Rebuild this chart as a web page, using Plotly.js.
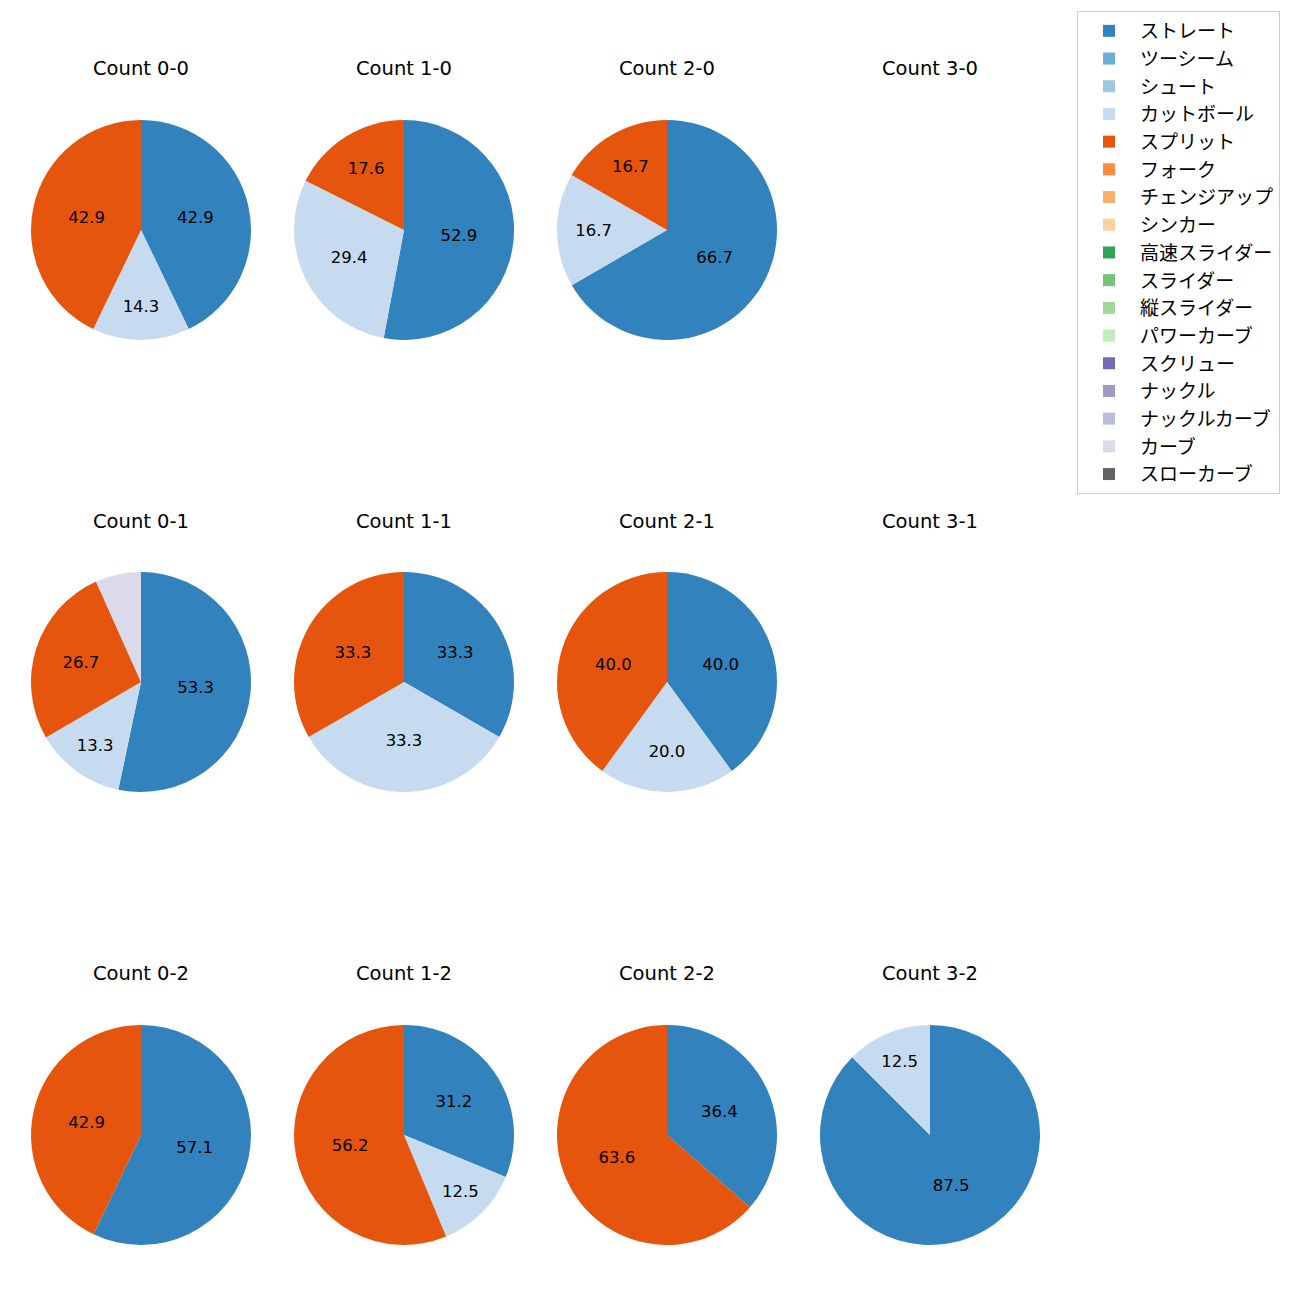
<!DOCTYPE html>
<html><head><meta charset="utf-8">
<script src="https://cdn.plot.ly/plotly-3.0.1.min.js"></script>
<style>body{margin:0;background:#fff}</style>
</head><body>
<div id="chart" style="width:1300px;height:1300px"></div>
<script>
const pitchTypes = ["ストレート","ツーシーム","シュート","カットボール","スプリット","フォーク","チェンジアップ","シンカー","高速スライダー","スライダー","縦スライダー","パワーカーブ","スクリュー","ナックル","ナックルカーブ","カーブ","スローカーブ"];
const pitchColors = ["#3182bd","#6baed6","#9ecae1","#c6dbef","#e6550d","#fd8d3c","#fdae6b","#fdd0a2","#31a354","#74c476","#a1d99b","#c7e9c0","#756bb1","#9e9ac8","#bcbddc","#dadaeb","#636363"];
const countLabels = ["Count 0-0","Count 1-0","Count 2-0","Count 3-0","Count 0-1","Count 1-1","Count 2-1","Count 3-1","Count 0-2","Count 1-2","Count 2-2","Count 3-2"];
// percentages per pitch type (order of pitchTypes)
const count00 = [42.9,0,0,14.3,42.9,0,0,0,0,0,0,0,0,0,0,0,0];
const count10 = [52.9,0,0,29.4,17.6,0,0,0,0,0,0,0,0,0,0,0,0];
const count20 = [66.7,0,0,16.7,16.7,0,0,0,0,0,0,0,0,0,0,0,0];
const count30 = null;
const count01 = [53.3,0,0,13.3,26.7,0,0,0,0,0,0,0,0,0,0,6.7,0];
const count11 = [33.3,0,0,33.3,33.3,0,0,0,0,0,0,0,0,0,0,0,0];
const count21 = [40.0,0,0,20.0,40.0,0,0,0,0,0,0,0,0,0,0,0,0];
const count31 = null;
const count02 = [57.1,0,0,0,42.9,0,0,0,0,0,0,0,0,0,0,0,0];
const count12 = [31.2,0,0,12.5,56.2,0,0,0,0,0,0,0,0,0,0,0,0];
const count22 = [36.4,0,0,0,63.6,0,0,0,0,0,0,0,0,0,0,0,0];
const count32 = [87.5,0,0,12.5,0,0,0,0,0,0,0,0,0,0,0,0,0];

const allCounts = [count00,count10,count20,count30,count01,count11,count21,count31,count02,count12,count22,count32];
const colCenters = [141,404,667,930];
const rowCenters = [230,682,1135];
const titleY = [69,521,973];
const W = 1300, H = 1300, R = 110;
const LATIN = '"DejaVu Sans", "Noto Sans CJK JP", sans-serif';
const JP = '"Noto Sans CJK JP", sans-serif';

const traces = [];
const annotations = [];
let legendShown = false;
allCounts.forEach((vals, i) => {
  const col = i % 4, row = Math.floor(i / 4);
  const cx = colCenters[col], cy = rowCenters[row];
  annotations.push({
    text: countLabels[i], x: cx / W, y: 1 - titleY[row] / H, xref: 'paper', yref: 'paper',
    xanchor: 'center', yanchor: 'middle', showarrow: false,
    font: {family: LATIN, size: 19.5, color: '#000'}
  });
  if (!vals) return;
  traces.push({
    type: 'pie',
    labels: pitchTypes,
    values: vals,
    text: vals.map(v => v >= 10 ? v.toFixed(1) : ''),
    textinfo: 'text',
    textposition: 'inside',
    insidetextorientation: 'horizontal',
    textfont: {family: LATIN, size: 16.5, color: '#000'},
    sort: false,
    direction: 'clockwise',
    rotation: 0,
    marker: {colors: pitchColors, line: {width: 0}},
    domain: {x: [(cx - R) / W, (cx + R) / W], y: [1 - (cy + R) / H, 1 - (cy - R) / H]},
    showlegend: !legendShown,
    hoverinfo: 'label+percent'
  });
  legendShown = true;
});

const layout = {
  width: W, height: H,
  margin: {l: 0, r: 0, t: 0, b: 0},
  paper_bgcolor: '#fff',
  showlegend: true,
  legend: {
    x: 1077 / W, y: 1 - 11 / H, xanchor: 'left', yanchor: 'top',
    bordercolor: '#cccccc', borderwidth: 1, bgcolor: '#fff',
    font: {family: JP, size: 19, color: '#000'},
    itemwidth: 52,
    traceorder: 'normal'
  },
  annotations: annotations
};
Plotly.newPlot('chart', traces, layout, {displayModeBar: false, staticPlot: true});
</script>
</body></html>
